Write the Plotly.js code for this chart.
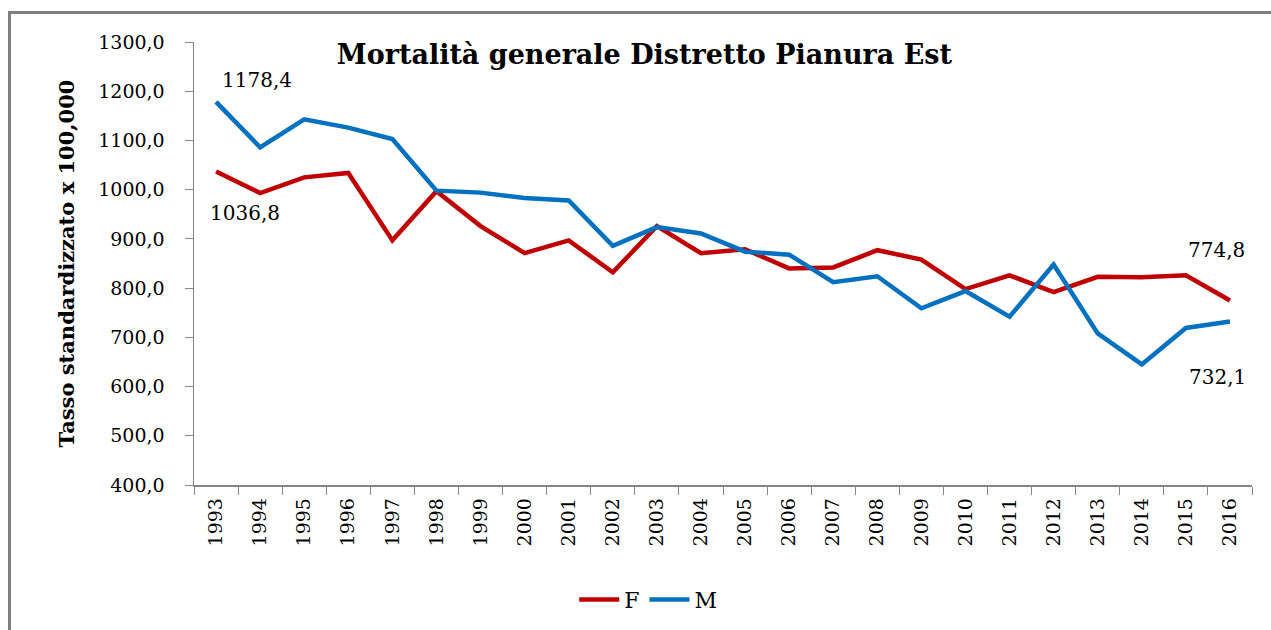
<!DOCTYPE html>
<html>
<head>
<meta charset="utf-8">
<script src="https://cdn.plot.ly/plotly-3.0.1.min.js"></script>
<style>
  html, body { margin: 0; padding: 0; background: #fff; }
  #wrap { position: relative; width: 1271px; height: 630px; overflow: hidden; }
  #chart { width: 1271px; height: 630px; }
  #frame { position: absolute; left: 8px; top: 11px; width: 1400px; height: 700px;
           border-left: 3px solid #7f7f7f; border-top: 3px solid #7f7f7f; pointer-events: none; }
</style>
</head>
<body>
<div id="wrap">
  <div id="chart"></div>
  <div id="frame"></div>
</div>
<script>
const years = ['1993','1994','1995','1996','1997','1998','1999','2000','2001','2002','2003','2004',
               '2005','2006','2007','2008','2009','2010','2011','2012','2013','2014','2015','2016'];
const femmine = [1036.8, 993, 1025, 1034, 897, 997, 926, 871, 897, 832, 926, 871,
                 879, 840, 842, 877, 858, 798, 826, 792, 823, 822, 826, 774.8];
const maschi = [1178.4, 1086, 1143, 1126, 1103, 998, 994, 983, 978, 886, 924, 911,
                874, 868, 812, 824, 759, 794, 742, 848, 708, 645, 719, 732.1];
const seriesNames = ['F', 'M'];
const titleText = 'Mortalità generale Distretto Pianura Est';
const yTitle = 'Tasso standardizzato x 100,000';
const yTicks = [400, 500, 600, 700, 800, 900, 1000, 1100, 1200, 1300];

const serif = '"DejaVu Serif", "Liberation Serif", serif';
const fmt = v => v.toFixed(1).replace('.', ',');

const traces = [
  { x: years, y: femmine, name: seriesNames[0], type: 'scatter', mode: 'lines',
    line: { color: '#C00000', width: 4.5 }, hoverinfo: 'x+y' },
  { x: years, y: maschi, name: seriesNames[1], type: 'scatter', mode: 'lines',
    line: { color: '#0070C0', width: 4.5 }, hoverinfo: 'x+y' }
];

const last = years.length - 1;
const annotations = [
  { x: 0, y: maschi[0], text: fmt(maschi[0]), xshift: 41, yshift: 22 },
  { x: 0, y: femmine[0], text: fmt(femmine[0]), xshift: 29, yshift: -41 },
  { x: last, y: femmine[last], text: fmt(femmine[last]), xshift: -13, yshift: 51 },
  { x: last, y: maschi[last], text: fmt(maschi[last]), xshift: -12, yshift: -55 }
].map(a => Object.assign({ xref: 'x', yref: 'y', showarrow: false,
  font: { family: serif, size: 20, color: '#000' } }, a));

const layout = {
  width: 1271, height: 630,
  margin: { l: 194, r: 19, t: 42, b: 145 },
  paper_bgcolor: '#fff', plot_bgcolor: '#fff',
  separators: ',.',
  font: { family: serif, size: 18, color: '#000' },
  title: { text: '<b>' + titleText + '</b>', font: { family: serif, size: 27, color: '#000' },
           x: 0.507, xanchor: 'center', y: 0.914, yanchor: 'middle', xref: 'container', yref: 'container' },
  xaxis: {
    type: 'category', tickangle: -90,
    showline: true, linecolor: '#868686', linewidth: 1.5,
    ticks: 'outside', ticklen: 8, tickcolor: '#868686', tickson: 'boundaries',
    showgrid: false, zeroline: false, ticklabelstandoff: 4,
    tickfont: { family: serif, size: 19, color: '#000' },
    range: [-0.5, years.length - 0.5]
  },
  yaxis: {
    range: [400, 1300], tickvals: yTicks, tickformat: '.1f',
    showline: true, linecolor: '#868686', linewidth: 1.5,
    ticks: 'outside', ticklen: 8, tickcolor: '#868686',
    showgrid: false, zeroline: false, ticklabelstandoff: 16,
    tickfont: { family: serif, size: 19, color: '#000' },
    title: { text: '<b>' + yTitle + '</b>', font: { family: serif, size: 21, color: '#000' }, standoff: 18 }
  },
  showlegend: true,
  legend: { orientation: 'h', x: 0.51, xanchor: 'center', xref: 'container',
            y: 0.048, yanchor: 'middle', yref: 'container', itemwidth: 40,
            font: { family: serif, size: 22, color: '#000' }, bgcolor: 'rgba(0,0,0,0)' },
  annotations: annotations
};

Plotly.newPlot('chart', traces, layout, { displayModeBar: false, staticPlot: true });
</script>
</body>
</html>
